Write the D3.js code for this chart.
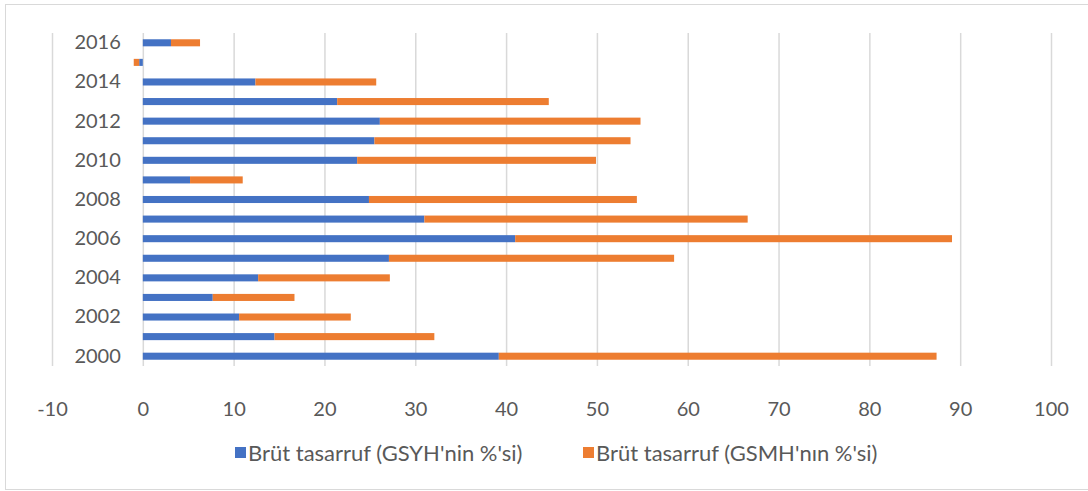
<!DOCTYPE html>
<html><head><meta charset="utf-8">
<script src="https://cdn.jsdelivr.net/npm/d3@7"></script>
<style>
html,body{margin:0;padding:0;background:#fff;}
svg text{font-family:Lato,"Open Sans",sans-serif;fill:#595959;}
</style></head>
<body>
<svg id="chart" width="1088" height="491"></svg>
<script>
const years = [2000,2001,2002,2003,2004,2005,2006,2007,2008,2009,2010,2011,2012,2013,2014,2015,2016];
const gsyh = [39.2,14.5,10.6,7.7,12.7,27.1,41.0,31.0,24.9,5.2,23.6,25.5,26.1,21.4,12.4,-0.4,3.1];
const gsmh = [48.2,17.6,12.3,9.0,14.5,31.4,48.1,35.6,29.5,5.8,26.3,28.2,28.7,23.3,13.3,-0.6,3.2];
const seriesNames = ["Brüt tasarruf (GSYH'nin %'si)","Brüt tasarruf (GSMH'nın %'si)"];
const colors = ["#4472C4","#ED7D31"];
const xTicks = [-10,0,10,20,30,40,50,60,70,80,90,100];

const svg = d3.select("#chart");
svg.append("rect").attr("x",5.5).attr("y",4.5).attr("width",1090).attr("height",485)
  .attr("fill","none").attr("stroke","#d9d9d9").attr("stroke-width",1);

const plotTop=33, plotBottom=366;
const x = d3.scaleLinear().domain([-10,100]).range([52,1051]);
const y = d3.scaleBand().domain(years.slice().reverse()).range([plotTop,plotBottom]).paddingInner(0.64).paddingOuter(0.32);

const gx = svg.append("g").attr("transform",`translate(0,${plotBottom})`)
  .call(d3.axisBottom(x).tickValues(xTicks).tickSize(-(plotBottom-plotTop)).tickPadding(36).tickFormat(d=>String(d)));
gx.select(".domain").remove();
gx.selectAll(".tick line").attr("stroke","#d9d9d9").attr("stroke-width",1.5);
gx.selectAll(".tick text").style("font-size","20px");

const gy = svg.append("g").attr("transform",`translate(${x(0)},0)`)
  .call(d3.axisLeft(y).tickSize(0).tickPadding(22).tickFormat(d=> d%2===0 ? String(d) : ""));
gy.select(".domain").remove();
gy.selectAll(".tick text").style("font-size","20px");

const table = years.map((yr,i)=>({year:yr, a:gsyh[i], b:gsmh[i]}));
const stack = d3.stack().keys(["a","b"]).offset(d3.stackOffsetDiverging);
const layers = stack(table);

svg.append("g").selectAll("g").data(layers).join("g")
  .attr("fill",(d,i)=>colors[i])
  .selectAll("rect").data(d=>d).join("rect")
  .attr("x",d=>x(Math.min(d[0],d[1])))
  .attr("width",d=>Math.abs(x(d[1])-x(d[0])))
  .attr("y",d=>y(d.data.year))
  .attr("height",y.bandwidth());

const legX = [235,583];
const leg = svg.append("g");
seriesNames.forEach((n,i)=>{
  leg.append("rect").attr("x",legX[i]).attr("y",447).attr("width",11).attr("height",11).attr("fill",colors[i]);
  leg.append("text").attr("x",legX[i]+13).attr("y",453).attr("dy","0.35em")
    .style("font-size","22px").text(n);
});
</script>
</body></html>
